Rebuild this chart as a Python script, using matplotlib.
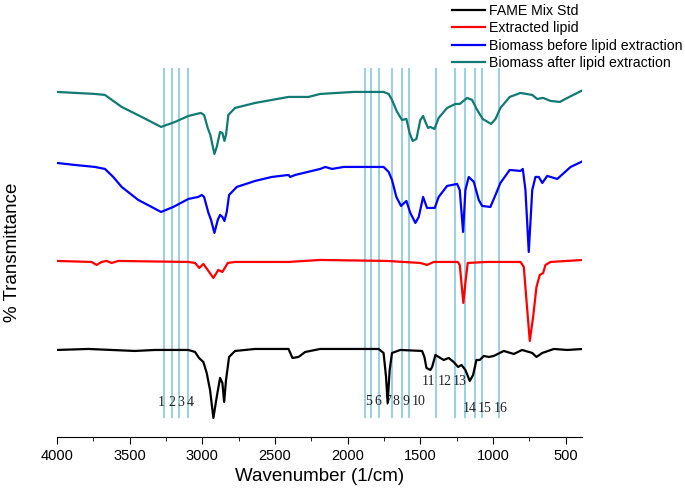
import matplotlib
matplotlib.use("Agg")
import matplotlib.pyplot as plt
from matplotlib.ticker import MultipleLocator

plt.rcParams["font.family"] = ["Liberation Sans", "DejaVu Sans"]

# wavenumber (1/cm) and transmittance (arbitrary offset units)
fame_w = [4000, 3784, 3463, 3325, 3095, 3049, 3022, 2992, 2969, 2946, 2923, 2900, 2877, 2861, 2849,
          2836, 2815, 2774, 2636, 2406, 2379, 2337, 2291, 2188, 1959, 1786, 1752, 1735, 1724, 1710,
          1694, 1637, 1487, 1471, 1457, 1430, 1418, 1395, 1373, 1338, 1304, 1270, 1239, 1216, 1189,
          1159, 1136, 1113, 1090, 1063, 1028, 994, 925, 856, 799, 729, 700, 660, 580, 488, 378]
fame_t = [87, 88, 86, 87, 87, 85, 79, 75, 64, 47, 19, 40, 59, 54, 35,
          57, 80, 86, 88, 88, 79, 80, 85, 88, 88, 88, 84, 60, 34, 67,
          84, 87, 86, 80, 69, 67, 70, 82, 80, 77, 79, 75, 70, 72, 67,
          56, 62, 77, 77, 81, 80, 81, 86, 83, 87, 84, 80, 84, 88, 87, 88]

lipid_w = [4000, 3761, 3726, 3692, 3658, 3623, 3577, 3095, 3049, 3020, 2992, 2962, 2923, 2889, 2861,
           2824, 2774, 2406, 2188, 1729, 1499, 1453, 1407, 1242, 1228, 1216, 1203, 1189, 1173, 1040,
           810, 787, 769, 746, 723, 700, 677, 654, 638, 603, 378]
lipid_t = [176, 175, 172, 175, 176, 174, 176, 175, 174, 169, 173, 167, 159, 167, 165,
           174, 175, 175, 177, 176, 174, 172, 175, 175, 172, 154, 134, 154, 174, 175,
           175, 170, 137, 96, 120, 150, 162, 164, 172, 175, 177]

before_w = [4000, 3876, 3738, 3669, 3612, 3554, 3440, 3348, 3283, 3199, 3095, 3027, 3003, 2987, 2957,
            2939, 2916, 2893, 2877, 2861, 2847, 2831, 2815, 2762, 2636, 2521, 2406, 2395, 2360, 2188,
            2153, 2107, 2027, 1752, 1717, 1694, 1664, 1632, 1595, 1568, 1533, 1510, 1480, 1453, 1400,
            1373, 1315, 1246, 1228, 1205, 1189, 1166, 1131, 1097, 1074, 1017, 982, 948, 884, 810,
            794, 776, 753, 729, 707, 684, 660, 626, 557, 465, 378]
before_t = [274, 272, 270, 268, 260, 250, 237, 230, 225, 230, 238, 240, 242, 240, 224,
            217, 204, 217, 222, 220, 216, 225, 242, 250, 256, 260, 262, 260, 262, 268,
            270, 268, 270, 270, 265, 257, 240, 231, 236, 224, 214, 220, 240, 229, 229,
            240, 251, 253, 247, 205, 247, 260, 255, 237, 231, 230, 242, 254, 267, 266,
            268, 247, 185, 247, 260, 260, 254, 261, 258, 270, 276]

after_w = [4000, 3738, 3669, 3554, 3416, 3283, 3187, 3095, 3010, 2987, 2962, 2944, 2916, 2900, 2877,
           2861, 2847, 2836, 2820, 2774, 2636, 2406, 2269, 2188, 1959, 1752, 1717, 1694, 1659, 1625,
           1595, 1573, 1552, 1526, 1499, 1480, 1464, 1446, 1430, 1402, 1373, 1315, 1258, 1228, 1177,
           1143, 1108, 1070, 1012, 982, 948, 884, 810, 729, 695, 654, 603, 539, 488, 378]
after_t = [345, 343, 342, 330, 320, 310, 315, 321, 324, 322, 309, 302, 283, 290, 305,
           304, 296, 302, 322, 329, 334, 340, 340, 343, 345, 345, 343, 337, 325, 317,
           318, 304, 296, 298, 317, 321, 315, 309, 310, 308, 319, 329, 333, 333, 339,
           337, 327, 318, 313, 318, 329, 340, 344, 342, 338, 339, 336, 335, 339, 347]

# marker lines and their numbers
band_pos = [3261, 3210, 3159, 3095, 1878, 1837, 1786, 1694, 1625, 1580,
            1389, 1258, 1194, 1125, 1077, 960]
band_labels = [str(i) for i in range(1, 17)]
label_w = [3279, 3212, 3148, 3084, 1855, 1793, 1726, 1664, 1597, 1511,
           1442, 1334, 1228, 1159, 1056, 948]
label_t = [34, 34, 34, 34, 35, 35, 35, 35, 35, 35,
           55, 55, 55, 28, 28, 28]

fig = plt.figure(figsize=(6.85, 5.04), dpi=100)
ax = fig.add_axes([0.083, 0.133, 0.767, 0.758])

ax.vlines(band_pos, 19, 369, color="#7cc4dc", lw=1.1, zorder=1)
for w, t, s in zip(label_w, label_t, band_labels):
    ax.text(w, t, s, ha="center", va="center", fontsize=10,
            family="Liberation Serif", color="#222222", zorder=2)

l1, = ax.plot(fame_w, fame_t, color="black", lw=1.6, zorder=3)
l2, = ax.plot(lipid_w, lipid_t, color="#ff0000", lw=1.6, zorder=3)
l3, = ax.plot(before_w, before_t, color="#0000ff", lw=1.6, zorder=3)
l4, = ax.plot(after_w, after_t, color="#117a73", lw=1.6, zorder=3)

ax.set_xlim(4000, 385)
ax.set_ylim(0, 382)
ax.xaxis.set_major_locator(MultipleLocator(500))
ax.xaxis.set_minor_locator(MultipleLocator(250))
ax.tick_params(axis="x", which="major", length=5, labelsize=10.5)
ax.tick_params(axis="x", which="minor", length=3)
ax.set_yticks([])
for side in ["left", "right", "top"]:
    ax.spines[side].set_visible(False)

ax.set_xlabel("Wavenumber (1/cm)", fontsize=13.5)
fig.text(0.018, 0.5, "% Transmittance", rotation=90, va="center", ha="center", fontsize=13.5)

fig.legend([l1, l2, l3, l4],
           ["FAME Mix Std", "Extracted lipid", "Biomass before lipid extraction",
            "Biomass after lipid extraction"],
           loc="upper right", bbox_to_anchor=(1.006, 1.007), frameon=False, fontsize=10.2,
           handlelength=2.3, handletextpad=0.25, labelspacing=0.25, borderaxespad=0.1)

fig.savefig("out.png", dpi=100)
